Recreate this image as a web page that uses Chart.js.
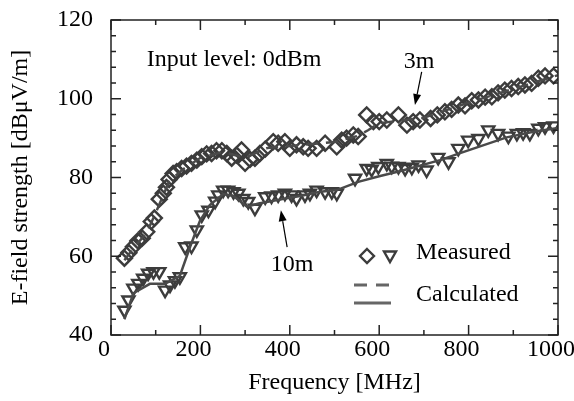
<!DOCTYPE html>
<html>
<head>
<meta charset="utf-8">
<script src="https://cdn.jsdelivr.net/npm/chart.js@4"></script>
<style>
  html, body { margin: 0; padding: 0; background: #fff; }
</style>
</head>
<body>
<canvas id="fieldChart" width="574" height="401"></canvas>
<script>
// Measured E-field strength, 3m distance (diamonds)
const freq3m = [30, 40, 50, 60, 70, 80, 90, 97, 108, 117, 124, 130, 139, 147, 158, 169, 180, 192, 203, 214,
    225, 236, 248, 259, 270, 281, 292, 300, 311, 322, 333, 345, 363, 374, 389, 400, 415, 430, 441, 460,
    479, 505, 516, 527, 542, 553, 572, 587, 600, 617, 643, 662, 676, 691, 715, 730, 747, 762, 777, 792,
    807, 822, 837, 852, 866, 881, 896, 911, 926, 941, 956, 971, 990];
const meas3m = [59.5, 60.9, 62.4, 63.9, 64.6, 66.2, 68.8, 69.7, 74.5, 76, 77.5, 79.5, 81, 81.5, 82.3, 82.9, 83.6, 84.4, 85.3, 86,
    86.1, 86.8, 86.8, 86.1, 84.9, 85.7, 87, 83.6, 84.6, 84.9, 86.1, 87.2, 89.1, 88.7, 89.1, 87.4, 88.3, 87.8, 87.4, 87.4,
    88.7, 87.8, 89.5, 90, 90.8, 90.4, 95.9, 94.2, 94.2, 94.6, 95.9, 93.3, 94.2, 94.6, 95, 95.9, 96.7, 97.3, 98.4, 98.2,
    99.5, 99.7, 100.4, 100.5, 101.5, 102.2, 102.6, 103.1, 103.5, 103.9, 105.2, 105.8, 105.8];

// Measured E-field strength, 10m distance (triangles)
const freq10m = [30, 39, 50, 61, 72, 83, 95, 108, 121, 132, 143, 154, 166, 180, 192, 203, 218, 233, 240, 251,
    262, 274, 285, 296, 307, 322, 345, 359, 374, 389, 404, 415, 434, 445, 460, 479, 494, 505, 546, 572,
    583, 598, 617, 628, 643, 658, 673, 688, 706, 732, 755, 777, 799, 822, 844, 866, 889, 908, 922, 937,
    956, 971, 990];
const meas10m = [46.3, 48.9, 51.9, 53.1, 54.4, 55.7, 56.1, 56.1, 51.4, 52.7, 53.8, 54.8, 62.4, 62.6, 66.7, 70.5, 71.7, 74, 75.6, 76.8,
    76.8, 76.4, 76, 74.7, 73.9, 72.2, 75.1, 75.3, 75.6, 76, 75.6, 74.7, 75.6, 76, 76.8, 76.4, 76.4, 76, 79.8, 82.3,
    82.1, 82.8, 83.6, 82.9, 82.8, 82.3, 82.6, 83.2, 81.9, 85.1, 84, 87.4, 89.5, 89.9, 92.1, 91.2, 90.5, 91.2, 91.4, 91.2,
    92.5, 92.9, 93.1];

// Calculated curves
const calcFreq3m = [30, 50, 80, 100, 130, 160, 200, 250, 300, 350, 400, 450, 500, 550, 575, 600, 650, 700, 800, 900, 1000];
const calc3m = [59, 62, 66, 71, 79, 82, 85, 86.5, 85, 87.5, 88, 88.5, 89, 90.5, 92, 93.8, 94.5, 95.2, 99, 102.5, 106];
const calcFreq10m = [30, 50, 87, 121, 154, 177, 199, 221, 251, 274, 304, 330, 393, 423, 468, 505, 553, 600, 650, 736, 781, 885, 945, 1000];
const calc10m = [44, 50.6, 53, 53, 55, 62.4, 69, 73, 75.8, 75.3, 72.6, 73.4, 74.7, 75.3, 76.4, 76.8, 78.9, 80.3, 81.7, 84.4, 86.2, 90.2, 91.6, 92.6];

const markerColor = '#3c3c3c';
const lineColor = '#4a4a4a';
const axisColor = '#222';
const serif = "'Liberation Serif', 'Times New Roman', serif";

const toPoints = (xs, ys) => xs.map((x, i) => ({ x: x, y: ys[i] }));

// frame with inward ticks on all four sides
const frameAndTicks = {
    id: 'frameAndTicks',
    afterDatasetsDraw(chart) {
        const { ctx, chartArea: a, scales: { x, y } } = chart;
        ctx.save();
        ctx.strokeStyle = axisColor;
        ctx.lineWidth = 1.5;
        ctx.strokeRect(a.left, a.top, a.right - a.left, a.bottom - a.top);
        ctx.beginPath();
        for (let v = 0; v <= 1000; v += 100) {
            const px = x.getPixelForValue(v);
            const len = v % 200 === 0 ? 10 : 5;
            ctx.moveTo(px, a.bottom); ctx.lineTo(px, a.bottom - len);
            ctx.moveTo(px, a.top); ctx.lineTo(px, a.top + len);
        }
        for (let v = 40; v <= 120; v += 4) {
            const py = y.getPixelForValue(v);
            const len = v % 20 === 0 ? 10 : 5;
            ctx.moveTo(a.left, py); ctx.lineTo(a.left + len, py);
            ctx.moveTo(a.right, py); ctx.lineTo(a.right - len, py);
        }
        ctx.stroke();
        ctx.restore();
    }
};

function arrow(ctx, x1, y1, x2, y2) {
    const ang = Math.atan2(y2 - y1, x2 - x1);
    const hl = 11, hw = 4;
    ctx.beginPath();
    ctx.moveTo(x1, y1);
    ctx.lineTo(x2 - Math.cos(ang) * hl, y2 - Math.sin(ang) * hl);
    ctx.stroke();
    ctx.beginPath();
    ctx.moveTo(x2, y2);
    ctx.lineTo(x2 - Math.cos(ang) * hl - Math.sin(ang) * hw, y2 - Math.sin(ang) * hl + Math.cos(ang) * hw);
    ctx.lineTo(x2 - Math.cos(ang) * hl + Math.sin(ang) * hw, y2 - Math.sin(ang) * hl - Math.cos(ang) * hw);
    ctx.closePath();
    ctx.fill();
}

// text labels, arrows and the hand-made legend
const annotations = {
    id: 'annotations',
    afterDraw(chart) {
        const { ctx, scales: { x, y } } = chart;
        ctx.save();
        ctx.fillStyle = '#000';
        ctx.font = '24px ' + serif;
        ctx.textBaseline = 'middle';
        ctx.textAlign = 'left';
        ctx.fillText('Input level: 0dBm', x.getPixelForValue(80), y.getPixelForValue(109.8));
        ctx.textAlign = 'center';
        ctx.fillText('3m', x.getPixelForValue(689), y.getPixelForValue(109.3));
        ctx.fillText('10m', x.getPixelForValue(405), y.getPixelForValue(57.8));

        ctx.strokeStyle = '#000';
        ctx.lineWidth = 1.2;
        arrow(ctx, x.getPixelForValue(695), y.getPixelForValue(106.8), x.getPixelForValue(680), y.getPixelForValue(98.4));
        arrow(ctx, x.getPixelForValue(394), y.getPixelForValue(62.3), x.getPixelForValue(380), y.getPixelForValue(71.7));

        // legend
        ctx.textAlign = 'left';
        ctx.fillText('Measured', 416, 253);
        ctx.fillText('Calculated', 416, 295);

        ctx.strokeStyle = markerColor;
        ctx.lineWidth = 2.4;
        ctx.beginPath();
        ctx.moveTo(367, 249); ctx.lineTo(374, 256); ctx.lineTo(367, 263); ctx.lineTo(360, 256);
        ctx.closePath();
        ctx.stroke();
        ctx.beginPath();
        ctx.moveTo(384, 251.5); ctx.lineTo(396, 251.5); ctx.lineTo(390, 262);
        ctx.closePath();
        ctx.stroke();

        ctx.strokeStyle = '#666';
        ctx.lineWidth = 3;
        ctx.setLineDash([13, 9]);
        ctx.beginPath();
        ctx.moveTo(354, 285); ctx.lineTo(390, 285);
        ctx.stroke();
        ctx.setLineDash([]);
        ctx.beginPath();
        ctx.moveTo(354, 303); ctx.lineTo(391, 303);
        ctx.stroke();
        ctx.restore();
    }
};

new Chart(document.getElementById('fieldChart'), {
    type: 'scatter',
    data: {
        datasets: [
            {
                label: 'Calculated 3m',
                data: toPoints(calcFreq3m, calc3m),
                showLine: true,
                borderColor: lineColor,
                borderWidth: 2.5,
                borderDash: [12, 8],
                pointRadius: 0
            },
            {
                label: 'Calculated 10m',
                data: toPoints(calcFreq10m, calc10m),
                showLine: true,
                borderColor: lineColor,
                borderWidth: 2.5,
                pointRadius: 0
            },
            {
                label: 'Measured 3m',
                data: toPoints(freq3m, meas3m),
                pointStyle: 'rectRot',
                pointRadius: 7.5,
                pointBorderWidth: 2.4,
                pointBorderColor: markerColor,
                pointBackgroundColor: 'rgba(0,0,0,0)'
            },
            {
                label: 'Measured 10m',
                data: toPoints(freq10m, meas10m),
                pointStyle: 'triangle',
                rotation: 180,
                pointRadius: 7,
                pointBorderWidth: 2.4,
                pointBorderColor: markerColor,
                pointBackgroundColor: 'rgba(0,0,0,0)'
            }
        ]
    },
    options: {
        responsive: false,
        animation: false,
        devicePixelRatio: 1,
        layout: { padding: { top: 20, right: 16, left: 0, bottom: 0 } },
        plugins: {
            legend: { display: false },
            tooltip: { enabled: false }
        },
        scales: {
            x: {
                type: 'linear',
                min: 0,
                max: 1000,
                grid: { display: false },
                border: { display: false },
                ticks: {
                    stepSize: 200,
                    color: '#000',
                    font: { family: serif, size: 24 },
                    labelOffset: -7,
                    padding: -8,
                    maxRotation: 0,
                    callback: (v) => String(v)
                },
                title: {
                    display: true,
                    text: 'Frequency [MHz]',
                    color: '#000',
                    font: { family: serif, size: 24 },
                    padding: { top: 4, bottom: 4 }
                },
                afterFit(scale) {
                    scale.height = 66;
                    scale.paddingLeft = 0;
                    scale.paddingRight = 0;
                }
            },
            y: {
                min: 40,
                max: 120,
                grid: { display: false },
                border: { display: false },
                ticks: {
                    stepSize: 20,
                    color: '#000',
                    font: { family: serif, size: 24 },
                    padding: 10
                },
                title: {
                    display: true,
                    text: 'E-field strength [dBμV/m]',
                    color: '#000',
                    font: { family: serif, size: 24 },
                    padding: { top: 6, bottom: 4 }
                },
                afterFit(scale) {
                    scale.width = 111;
                    scale.paddingTop = 0;
                    scale.paddingBottom = 0;
                }
            }
        }
    },
    plugins: [frameAndTicks, annotations]
});
</script>
</body>
</html>
